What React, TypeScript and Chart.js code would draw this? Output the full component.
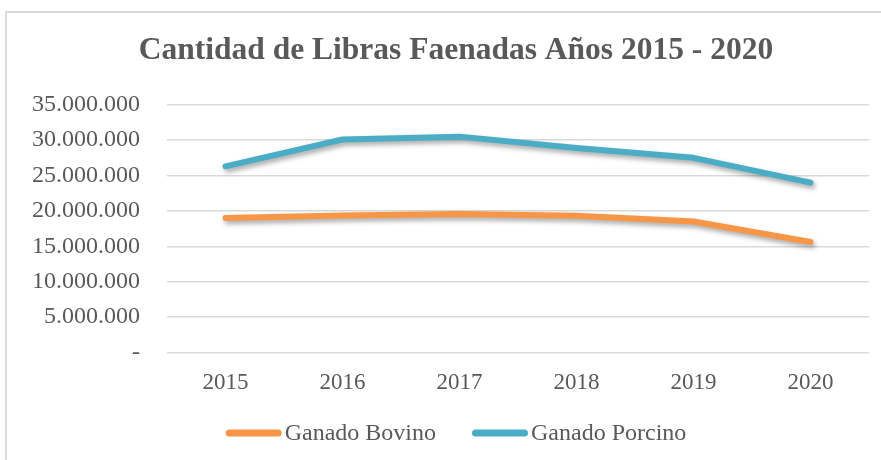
import React, { useEffect, useRef } from "react";
import { Chart, registerables } from "chart.js";

Chart.register(...registerables);

const titleText = "Cantidad de Libras Faenadas Años 2015 - 2020";
const years = ["2015", "2016", "2017", "2018", "2019", "2020"];
const bovinoLabel = "Ganado Bovino";
const porcinoLabel = "Ganado Porcino";
const bovino = [19000000, 19350000, 19550000, 19300000, 18500000, 15600000];
const porcino = [26300000, 30100000, 30500000, 28900000, 27500000, 24000000];
const yMin = 0;
const yMax = 35000000;
const yStep = 5000000;

const ORANGE = "#F79646";
const TEAL = "#4BACC6";
const TEXT = "#595959";
const GRID = "#d9d9d9";
const SERIF = "'Liberation Serif', 'Times New Roman', serif";

function fmt(v: number): string {
  if (v === 0) return "-";
  return Math.round(v)
    .toString()
    .replace(/\B(?=(\d{3})+(?!\d))/g, ".");
}

const shadowPlugin = {
  id: "lineShadow",
  beforeDatasetDraw(chart: any) {
    const ctx = chart.ctx;
    ctx.save();
    ctx.shadowColor = "rgba(0,0,0,0.35)";
    ctx.shadowBlur = 5;
    ctx.shadowOffsetX = 2;
    ctx.shadowOffsetY = 3;
  },
  afterDatasetDraw(chart: any) {
    chart.ctx.restore();
  },
};

// Legend drawn like the original: a short thick line, tight gap, label text
const lineLegendPlugin = {
  id: "lineLegend",
  afterDraw(chart: any) {
    const ctx = chart.ctx;
    const lineW = 56;
    const gap = 3;
    const itemGap = 36;
    const font = "24px " + SERIF;
    ctx.save();
    ctx.font = font;
    const items = chart.data.datasets.map((d: any) => ({
      text: d.label as string,
      color: d.borderColor as string,
      w: ctx.measureText(d.label).width,
    }));
    const total =
      items.reduce((a: number, it: any) => a + lineW + gap + it.w, 0) + itemGap * (items.length - 1);
    let x = chart.width / 2 - total / 2;
    const y = 420;
    for (const it of items) {
      ctx.strokeStyle = it.color;
      ctx.lineWidth = 7;
      ctx.lineCap = "round";
      ctx.beginPath();
      ctx.moveTo(x + 3.5, y);
      ctx.lineTo(x + lineW - 3.5, y);
      ctx.stroke();
      ctx.fillStyle = TEXT;
      ctx.textBaseline = "middle";
      ctx.textAlign = "left";
      ctx.fillText(it.text, x + lineW + gap, y + 1);
      x += lineW + gap + it.w + itemGap;
    }
    ctx.restore();
  },
};

export default function App() {
  const ref = useRef<HTMLCanvasElement | null>(null);
  useEffect(() => {
    if (!ref.current) return;
    const chart = new Chart(ref.current, {
      type: "line",
      data: {
        labels: years,
        datasets: [
          {
            label: bovinoLabel,
            data: bovino,
            borderColor: ORANGE,
            backgroundColor: ORANGE,
            borderWidth: 6,
            pointRadius: 0,
            tension: 0,
            borderCapStyle: "round",
            borderJoinStyle: "round",
          },
          {
            label: porcinoLabel,
            data: porcino,
            borderColor: TEAL,
            backgroundColor: TEAL,
            borderWidth: 6,
            pointRadius: 0,
            tension: 0,
            borderCapStyle: "round",
            borderJoinStyle: "round",
          },
        ],
      },
      options: {
        responsive: false,
        animation: false,
        maintainAspectRatio: false,
        layout: { padding: { left: 36, right: 36, top: 0, bottom: 54 } },
        plugins: {
          title: {
            display: true,
            text: titleText,
            color: TEXT,
            font: { family: SERIF, size: 31.5, weight: "bold" },
            padding: { top: 19, bottom: 35 },
          },
          legend: { display: false },
          tooltip: { enabled: false },
        },
        scales: {
          x: {
            offset: true,
            grid: { display: false },
            border: { display: false },
            ticks: {
              color: TEXT,
              font: { family: SERIF, size: 23 },
              padding: 9,
              maxRotation: 0,
            },
          },
          y: {
            min: yMin,
            max: yMax,
            border: { display: false },
            grid: { color: GRID, lineWidth: 1.5, drawTicks: false },
            afterFit: (s: any) => {
              s.width = 124;
              s._computeLabelArea = () => undefined;
            },
            ticks: {
              stepSize: yStep,
              color: TEXT,
              padding: 27,
              font: { family: SERIF, size: 24 },
              callback: (v: any) => fmt(Number(v)),
            },
          },
        },
      },
      plugins: [shadowPlugin, lineLegendPlugin],
    });
    return () => chart.destroy();
  }, []);

  return (
    <div
      style={{
        position: "fixed",
        left: 0,
        top: 0,
        width: 881,
        height: 460,
        overflow: "hidden",
        background: "#fff",
      }}
    >
      <div
        style={{
          position: "absolute",
          left: 5,
          top: 11,
          width: 902,
          height: 470,
          border: "2px solid " + GRID,
          boxSizing: "border-box",
        }}
      >
        <canvas ref={ref} width={898} height={447} style={{ display: "block" }} />
      </div>
    </div>
  );
}
